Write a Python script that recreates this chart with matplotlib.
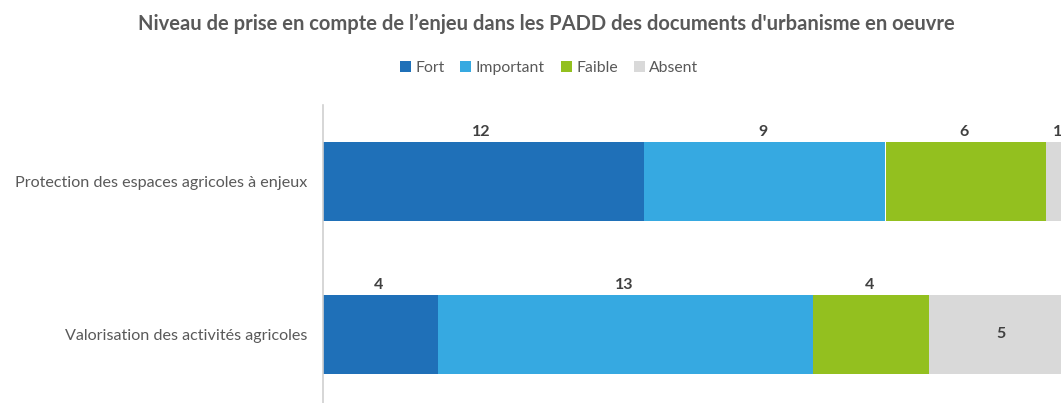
import matplotlib
matplotlib.use("Agg")
import matplotlib.pyplot as plt
import numpy as np

plt.rcParams['font.family'] = ['Lato', 'DejaVu Sans']

categories = ["Protection des espaces agricoles à enjeux",
              "Valorisation des activités agricoles"]
series = ["Fort", "Important", "Faible", "Absent"]
fort = [12, 4]
important = [9, 13]
faible = [6, 4]
absent = [1, 5]
colors = ["#1F70B8", "#36A9E1", "#93C01F", "#D9D9D9"]
text_color = "#595959"

values = np.array([fort, important, faible, absent], dtype=float)
totals = values.sum(axis=0)
shares = values / totals

fig = plt.figure(figsize=(10.61, 4.03), dpi=100)
# plot area spills past the right edge, as in the cropped original
ax = fig.add_axes([323 / 1061, -8 / 403, 750 / 1061, 306 / 403])

y = np.arange(len(categories))
left = np.zeros(len(categories))
bar_h = 0.51
for i, name in enumerate(series):
    ax.barh(y, shares[i], left=left, height=bar_h, color=colors[i], label=name)
    for j in range(len(categories)):
        xc = left[j] + shares[i][j] / 2
        txt = str(int(values[i][j]))
        if name == "Absent" and j == 1:
            ax.text(xc, y[j], txt, ha="center", va="center", fontsize=11.5,
                    fontweight="bold", color="#404040")
        else:
            ax.annotate(txt, (xc, y[j] - bar_h / 2), xytext=(-2, 3),
                        textcoords="offset pixels", ha="center", va="bottom",
                        fontsize=11.5, fontweight="bold", color="#404040",
                        annotation_clip=False)
    left += shares[i]

ax.set_xlim(0, 1)
ax.set_ylim(1.5, -0.5)
ax.set_yticks(y)
ax.set_yticklabels(categories, fontsize=11.6, color=text_color)
ax.tick_params(axis="y", length=0, pad=11)
ax.set_xticks([])
for side in ["top", "right", "bottom"]:
    ax.spines[side].set_visible(False)
ax.spines["left"].set_color("#D0D0D0")
ax.spines["left"].set_linewidth(1.2)

fig.text(546 / 1061, 1 - 24 / 403, "Niveau de prise en compte de l\u2019enjeu dans les PADD des documents d'urbanisme en oeuvre",
         ha="center", va="center", fontsize=14.5, fontweight="bold", color=text_color)
fig.legend(loc="center", bbox_to_anchor=(549 / 1061, 1 - 68 / 403), ncol=4,
           frameon=False, fontsize=11.3, handlelength=0.7, handleheight=0.7,
           handletextpad=0.3, columnspacing=1.0, labelcolor=text_color)

fig.savefig("out.png", dpi=100)
